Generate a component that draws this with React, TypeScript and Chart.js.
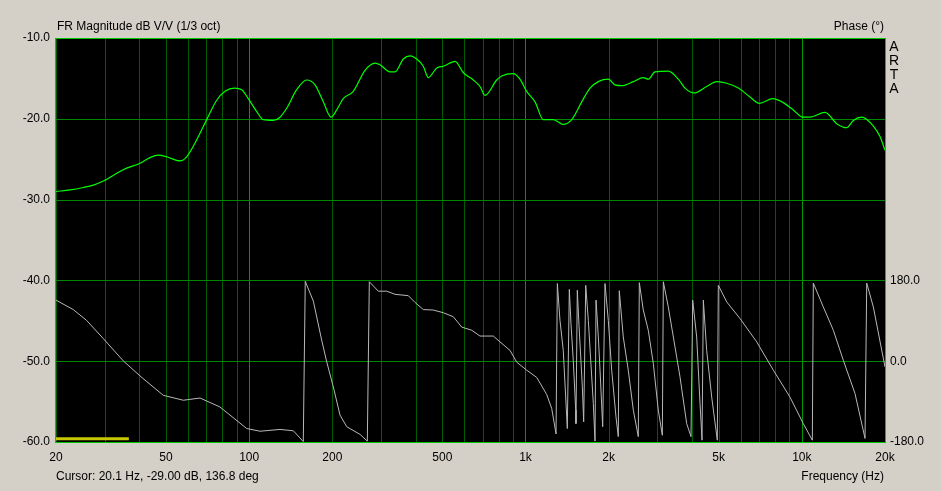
import React, { useEffect, useRef } from "react";
import { Chart, registerables } from "chart.js";
Chart.register(...registerables);

// Magnitude (1/3 oct smoothed), dB V/V
const magFreq = [
  20, 22.5, 25.1, 27.3, 29.7, 35.0, 40.3, 43.8, 46.9, 50.3,
  56.2, 59.4, 64.6, 70.2, 76.3, 81.8, 88.4, 94.0, 99.3, 106.5,
  112.5, 122.3, 129.3, 136.7, 148.6, 161.5, 173.1, 185.5, 197.8, 207.4,
  219.1, 238.2, 262.6, 285.4, 297.5, 323.4, 337.2, 361.3, 382.1, 404.0,
  426.8, 445.0, 477.3, 504.3, 555.9, 595.8, 647.3, 684.5, 713.6, 786.8,
  820.3, 903.3, 955.2, 1010, 1083, 1160, 1261, 1370, 1470, 1598,
  1712, 1835, 1994, 2108, 2230, 2456, 2669, 2782, 2942, 3287,
  3573, 3778, 4073, 4526, 4921, 5348, 5891, 6493, 7018, 7849,
  8572, 9316, 10074, 10710, 12133, 13375, 14533, 15359, 16472, 18145,
  19184, 20000,
];
const magDb = [
  -29.0, -28.8, -28.5, -28.2, -27.7, -26.3, -25.5, -24.8, -24.5, -24.7,
  -25.2, -24.7, -22.6, -20.1, -17.7, -16.6, -16.2, -16.4, -17.5, -19.1,
  -20.1, -20.2, -19.8, -18.7, -16.4, -15.2, -15.8, -17.9, -19.8, -18.9,
  -17.5, -16.6, -14.0, -13.1, -13.3, -14.2, -14.2, -12.6, -12.2, -12.6,
  -13.5, -14.9, -13.7, -13.5, -12.9, -14.3, -15.2, -16.0, -17.1, -15.2,
  -14.7, -14.4, -15.1, -16.6, -17.9, -20.1, -20.1, -20.7, -20.1, -17.9,
  -16.2, -15.4, -15.1, -15.8, -15.9, -15.4, -14.9, -15.1, -14.2, -14.1,
  -15.1, -16.2, -16.8, -16.0, -15.4, -15.6, -16.2, -17.3, -18.1, -17.5,
  -18.0, -18.9, -19.8, -19.8, -19.2, -20.6, -21.1, -20.2, -19.8, -20.9,
  -22.2, -23.9,
];

// Wrapped phase, degrees (one line per wrap segment)
const phaseFreq = [
  20, 23.1, 25.8, 29.7, 35.0, 40.3, 48.9, 57.8, 66.4, 78.4, 98.0, 109.5, 129.3, 144.5, 157.0,
  159.6, 170.7, 183.0, 190.8, 201.6, 213.2, 225.5, 251.9, 267.7,
  272.2, 293.4, 314.6, 337.2, 376.7, 398.3, 426.8, 464.0, 504.3, 548.1, 587.9, 638.7, 684.5, 764.8, 808.8, 879.2, 929.3, 1010, 1098, 1193, 1244, 1290,
  1304, 1333, 1370, 1410, 1417,
  1441, 1461, 1489, 1520, 1523,
  1540, 1562, 1606, 1624,
  1652, 1688, 1760, 1785,
  1800, 1835, 1861, 1903,
  1940, 1994, 2051, 2126, 2167,
  2185, 2259, 2355, 2456, 2560,
  2582, 2669, 2782, 2901, 3024, 3128,
  3154, 3287, 3428, 3624, 3832, 3972,
  4028, 4164, 4282, 4354,
  4402, 4526, 4720, 4946,
  4987, 5348, 5975, 6869, 7888, 9062, 10124, 10916,
  11006, 11958, 13003, 14132, 15578, 16934,
  17176, 18145, 20000,
];
const phaseDeg = [
  136, 115, 91, 50, 1, -33, -76, -87, -82, -102, -150, -156, -152, -155, -179,
  178, 134, 47, -1, -57, -120, -146, -163, -178,
  177, 156, 156, 149, 146, 131, 115, 114, 108, 99, 76, 69, 56, 56, 43, 24, -2, -20, -36, -74, -105, -162,
  173, 91, 24, -124, -150,
  160, 84, 2, -109, -139,
  158, 80, -57, -135,
  169, 91, -94, -178,
  136, 54, -20, -146,
  173, 91, -20, -124, -168,
  157, 54, -20, -109, -168,
  175, 114, 69, -5, -109, -165,
  177, 121, 54, -35, -139, -168,
  136, 54, -94, -176,
  136, 24, -80, -176,
  169, 132, 95, 43, -20, -80, -139, -176,
  174, 121, 69, 2, -72, -172,
  174, 121, -13,
];

// Yellow cursor marker
const cursorFreq = [20, 36.7];
const cursorDb = [-59.6, -59.6];

const gridFreqs = [
  20, 30, 40, 50, 60, 70, 80, 90,
  100, 200, 300, 400, 500, 600, 700, 800, 900,
  1000, 2000, 3000, 4000, 5000, 6000, 7000, 8000, 9000,
  10000, 20000,
];
const freqLabels: Record<string, string> = {
  "20": "20", "50": "50", "100": "100", "200": "200", "500": "500",
  "1000": "1k", "2000": "2k", "5000": "5k", "10000": "10k", "20000": "20k",
};
const majorFreqs = [100, 1000, 10000];
const dbTicks = [-60, -50, -40, -30, -20, -10];
const phaseTicks = [-180, 0, 180];

const BG = "#d4d0c8";
const FONT = '"Liberation Sans", Arial, sans-serif';
const MINOR = "#005c00";
const MAJOR = "#009800";
const HGRID = "#008800";
const BORDER = "#00c800";

const artaPlugin = {
  id: "arta",
  beforeDraw(chart: any) {
    const { ctx, chartArea: a, width, height } = chart;
    ctx.save();
    ctx.fillStyle = BG;
    ctx.fillRect(0, 0, width, height);
    ctx.fillStyle = "#000000";
    ctx.fillRect(a.left, a.top, a.right - a.left, a.bottom - a.top);
    ctx.restore();
  },
  beforeDatasetsDraw(chart: any) {
    const { ctx, chartArea: a, scales } = chart;
    ctx.save();
    ctx.lineWidth = 1;
    gridFreqs.forEach((f) => {
      const x = Math.round(scales.x.getPixelForValue(f)) + 0.5;
      ctx.strokeStyle = majorFreqs.includes(f) ? MAJOR : MINOR;
      ctx.beginPath();
      ctx.moveTo(x, a.top);
      ctx.lineTo(x, a.bottom);
      ctx.stroke();
    });
    dbTicks.forEach((v) => {
      const y = Math.round(scales.y.getPixelForValue(v)) + 0.5;
      ctx.strokeStyle = HGRID;
      ctx.beginPath();
      ctx.moveTo(a.left, y);
      ctx.lineTo(a.right, y);
      ctx.stroke();
    });
    ctx.restore();
  },
  afterDraw(chart: any) {
    const { ctx, chartArea: a } = chart;
    ctx.save();
    ctx.strokeStyle = BORDER;
    ctx.lineWidth = 1;
    ctx.strokeRect(Math.round(a.left) - 0.5, Math.round(a.top) + 0.5,
      Math.round(a.right) - Math.round(a.left) + 1, Math.round(a.bottom) - Math.round(a.top));
    ctx.fillStyle = "#000000";
    ctx.font = "12px " + FONT;
    ctx.textBaseline = "middle";
    ctx.textAlign = "left";
    ctx.fillText("FR Magnitude dB V/V (1/3 oct)", 57, 27);
    ctx.fillText("Cursor: 20.1 Hz, -29.00 dB, 136.8 deg", 56, 477);
    ctx.textAlign = "right";
    ctx.fillText("Phase (\u00b0)", 884, 27);
    ctx.fillText("Frequency (Hz)", 884, 477);
    ctx.textAlign = "center";
    ctx.font = "14px " + FONT;
    ["A", "R", "T", "A"].forEach((ch, i) => ctx.fillText(ch, 894, 47 + i * 14));
    ctx.restore();
  },
};

export default function App() {
  const ref = useRef<HTMLCanvasElement>(null);
  useEffect(() => {
    if (!ref.current) return;
    const tickFont = { family: FONT, size: 12 };
    const chart = new Chart(ref.current, {
      type: "line",
      data: {
        datasets: [
          {
            data: phaseFreq.map((f, i) => ({ x: f, y: phaseDeg[i] })),
            yAxisID: "y2",
            borderColor: "#b8b8b8",
            borderWidth: 1,
            pointRadius: 0,
            tension: 0,
          },
          {
            data: magFreq.map((f, i) => ({ x: f, y: magDb[i] })),
            yAxisID: "y",
            borderColor: "#00ff00",
            borderWidth: 1.2,
            pointRadius: 0,
            cubicInterpolationMode: "monotone",
          },
          {
            data: cursorFreq.map((f, i) => ({ x: f, y: cursorDb[i] })),
            yAxisID: "y",
            borderColor: "#c8c800",
            borderWidth: 3,
            pointRadius: 0,
          },
        ],
      } as any,
      options: {
        responsive: false,
        animation: false,
        events: [],
        layout: { padding: { top: 38, left: 0, right: 0, bottom: 0 } },
        plugins: { legend: { display: false }, tooltip: { enabled: false } },
        scales: {
          x: {
            type: "logarithmic",
            min: 20,
            max: 20000,
            afterBuildTicks: (s: any) => {
              s.ticks = gridFreqs.map((v) => ({ value: v }));
            },
            afterFit: (s: any) => {
              s.height = 49;
            },
            ticks: {
              autoSkip: false,
              maxRotation: 0,
              padding: 8,
              color: "#000000",
              font: tickFont,
              callback: (v: any) => freqLabels[String(v)] ?? "",
            },
            grid: { display: false, drawTicks: false },
            border: { display: false },
          },
          y: {
            min: -60,
            max: -10,
            position: "left",
            afterBuildTicks: (s: any) => {
              s.ticks = dbTicks.map((v) => ({ value: v }));
            },
            afterFit: (s: any) => {
              s.width = 56;
            },
            ticks: {
              padding: 6,
              color: "#000000",
              font: tickFont,
              callback: (v: any) => Number(v).toFixed(1),
            },
            grid: { display: false, drawTicks: false },
            border: { display: false },
          },
          y2: {
            min: -180,
            max: 720,
            position: "right",
            afterBuildTicks: (s: any) => {
              s.ticks = phaseTicks.map((v) => ({ value: v }));
            },
            afterFit: (s: any) => {
              s.width = 56;
            },
            ticks: {
              padding: 5,
              color: "#000000",
              font: tickFont,
              callback: (v: any) => Number(v).toFixed(1),
            },
            grid: { display: false, drawTicks: false },
            border: { display: false },
          },
        },
      } as any,
      plugins: [artaPlugin],
    });
    return () => chart.destroy();
  }, []);
  return (
    <div style={{ width: 941, height: 491, background: BG }}>
      <style>{`body{margin:0;background:${BG};}`}</style>
      <canvas ref={ref} width={941} height={491} style={{ display: "block" }} />
    </div>
  );
}
